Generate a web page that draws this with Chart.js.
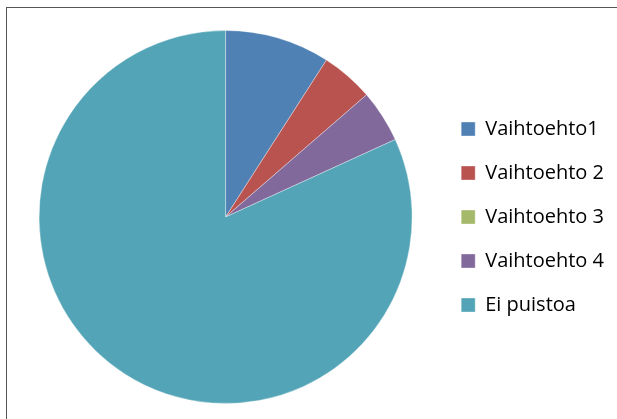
<!DOCTYPE html>
<html>
<head>
<meta charset="utf-8">
<script src="https://cdn.jsdelivr.net/npm/chart.js@4"></script>
<style>
  html, body { margin: 0; padding: 0; background: #fff; }
  #wrap { position: relative; width: 617px; height: 419px; overflow: hidden; }
  #frame { position: absolute; left: 6px; top: 7px; width: 700px; height: 500px; border: 1px solid #555; box-sizing: border-box; }
  #box { position: absolute; left: 0; top: 0; width: 617px; height: 419px; }
</style>
</head>
<body>
<div id="wrap">
  <div id="frame"></div>
  <div id="box"><canvas id="pieChart"></canvas></div>
</div>
<script>
const kategoriat = ['Vaihtoehto1', 'Vaihtoehto 2', 'Vaihtoehto 3', 'Vaihtoehto 4', 'Ei puistoa'];
const arvot = [2, 1, 0, 1, 18];
const varit = ['#4F81B4', '#B9534F', '#A5B96A', '#82699C', '#52A4B6'];

new Chart(document.getElementById('pieChart'), {
    type: 'pie',
    data: {
        labels: kategoriat,
        datasets: [{
            data: arvot,
            backgroundColor: varit,
            borderColor: 'rgba(255,255,255,0.35)',
            borderWidth: 1
        }]
    },
    options: {
        responsive: true,
        maintainAspectRatio: false,
        animation: false,
        layout: { padding: { top: 30, bottom: 15, left: 14, right: 3 } },
        plugins: {
            tooltip: { enabled: false },
            legend: {
                position: 'right',
                labels: {
                    color: '#000000',
                    font: { family: "'Open Sans', sans-serif", size: 20 },
                    boxWidth: 14,
                    boxHeight: 14,
                    padding: 24
                }
            }
        }
    }
});
</script>
</body>
</html>
